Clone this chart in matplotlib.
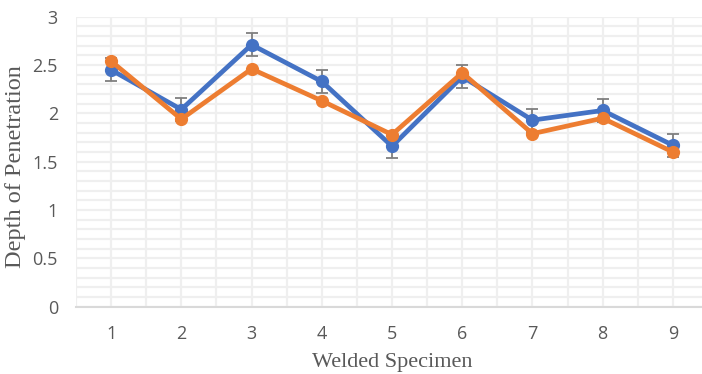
import matplotlib
matplotlib.use("Agg")
import matplotlib.pyplot as plt
from matplotlib.ticker import MultipleLocator

specimens = [1, 2, 3, 4, 5, 6, 7, 8, 9]
series_blue = [2.45, 2.04, 2.71, 2.33, 1.66, 2.38, 1.93, 2.03, 1.67]
blue_err = [0.12, 0.12, 0.12, 0.12, 0.12, 0.12, 0.12, 0.12, 0.12]
series_orange = [2.54, 1.94, 2.46, 2.13, 1.78, 2.42, 1.79, 1.95, 1.60]
y_ticks = [0, 0.5, 1, 1.5, 2, 2.5, 3]
y_tick_labels = ["0", "0.5", "1", "1.5", "2", "2.5", "3"]

BLUE = "#4472C4"
ORANGE = "#ED7D31"
GRID = "#EFEFEF"
TEXT = "#595959"

fig = plt.figure(figsize=(7.02, 3.74), dpi=100)
ax = fig.add_axes([76 / 702, 1 - 306.7 / 374, (708 - 76) / 702, (306.7 - 16.7) / 374])

ax.set_xlim(0.5, 9.5)
ax.set_ylim(0, 3)

# light grid: every 0.1 vertically, every half category horizontally
ax.yaxis.set_minor_locator(MultipleLocator(0.1))
ax.xaxis.set_minor_locator(MultipleLocator(0.5))
ax.grid(which="both", color=GRID, linewidth=1.6)
ax.set_axisbelow(True)

for side in ["top", "right", "left"]:
    ax.spines[side].set_visible(False)
ax.spines["bottom"].set_color("#D9D9D9")
ax.spines["bottom"].set_linewidth(1.5)

ax.errorbar(specimens, series_blue, yerr=blue_err, color=BLUE, linewidth=3.4,
            marker="o", markersize=8.5, ecolor="#7F7F7F", elinewidth=1.3,
            capsize=4.5, capthick=1.3, zorder=3)
ax.plot(specimens, series_orange, color=ORANGE, linewidth=3.4, marker="o",
        markersize=8.5, zorder=4)

ax.set_xticks(specimens)
ax.set_xticklabels([str(s) for s in specimens])
ax.set_yticks(y_ticks)
ax.set_yticklabels(y_tick_labels)
ax.tick_params(which="both", length=0)
ax.tick_params(axis="y", pad=13, labelsize=13, labelcolor=TEXT)
ax.tick_params(axis="x", pad=13, labelsize=13, labelcolor=TEXT)
for lab in ax.get_xticklabels() + ax.get_yticklabels():
    lab.set_fontfamily("Open Sans")

fig.text(392 / 702, 1 - 362 / 374, "Welded Specimen", ha="center", va="center",
         fontsize=16, color=TEXT, family="Liberation Serif")
fig.text(16 / 702, 1 - 166.5 / 374, "Depth of Penetration", ha="center", va="center",
         rotation=90, fontsize=17.5, color=TEXT, family="Liberation Serif")

fig.savefig("out.png", dpi=100)
